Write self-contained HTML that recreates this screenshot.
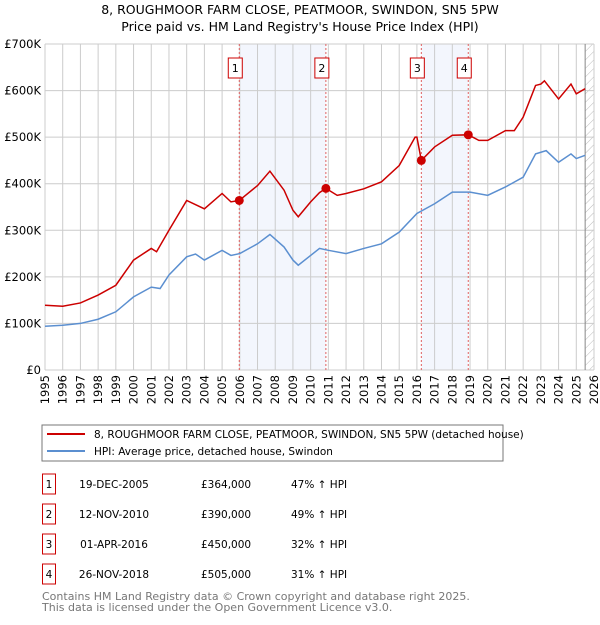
<!DOCTYPE html>
<html><head><meta charset="utf-8"><style>
body{margin:0;background:#fff;font-family:"Liberation Sans","DejaVu Sans",sans-serif;}
svg text{font-family:"DejaVu Sans","Liberation Sans",sans-serif;}
</style></head><body>
<svg id="c" width="600" height="620" xmlns="http://www.w3.org/2000/svg">
<defs><pattern id="hatch" width="6" height="6" patternUnits="userSpaceOnUse" patternTransform="rotate(45)"><line x1="0" y1="0" x2="0" y2="6" stroke="#bbb" stroke-width="1"/></pattern></defs>
<text x="300" y="14" text-anchor="middle" font-size="12.5" fill="#000">8, ROUGHMOOR FARM CLOSE, PEATMOOR, SWINDON, SN5 5PW</text>
<text x="300" y="31" text-anchor="middle" font-size="12.5" fill="#000">Price paid vs. HM Land Registry's House Price Index (HPI)</text>
<g id="plot"></g>
<rect x="42" y="425" width="461" height="36" fill="#fff" stroke="#777"/>
<line x1="47" y1="434" x2="85" y2="434" stroke="#cc0000" stroke-width="2"/>
<text x="94" y="438" font-size="10.5">8, ROUGHMOOR FARM CLOSE, PEATMOOR, SWINDON, SN5 5PW (detached house)</text>
<line x1="47" y1="451" x2="85" y2="451" stroke="#5b8fd0" stroke-width="2"/>
<text x="94" y="455" font-size="10.5">HPI: Average price, detached house, Swindon</text>
<g id="table" font-size="10.5"></g>
<text x="42" y="600" font-size="11" fill="#777">Contains HM Land Registry data © Crown copyright and database right 2025.</text>
<text x="42" y="611" font-size="11" fill="#777">This data is licensed under the Open Government Licence v3.0.</text>
</svg>
<script>
const yTicks=[0,100000,200000,300000,400000,500000,600000,700000];
const yTickLabels=["£0","£100K","£200K","£300K","£400K","£500K","£600K","£700K"];
const years=[1995,1996,1997,1998,1999,2000,2001,2002,2003,2004,2005,2006,2007,2008,2009,2010,2011,2012,2013,2014,2015,2016,2017,2018,2019,2020,2021,2022,2023,2024,2025,2026];
const hpiT=[1995,1996,1997,1998,1999,2000,2001,2001.5,2002,2003,2003.5,2004,2005,2005.5,2006,2007,2007.7,2008.5,2009,2009.3,2010,2010.5,2011,2012,2013,2014,2015,2016,2017,2018,2019,2020,2021,2022,2022.7,2023.3,2024,2024.7,2025,2025.5];
const hpiV=[94,96,100,109,125,157,178,175,204,243,249,236,257,246,250,271,291,264,236,225,246,261,257,250,261,271,296,336,357,382,382,375,393,414,464,471,446,464,454,461];
const propT=[1995,1996,1997,1998,1999,2000,2001,2001.3,2002,2003,2004,2005,2005.5,2005.97,2007,2007.7,2008.5,2009,2009.3,2010,2010.5,2010.86,2011.5,2012,2013,2014,2015,2015.9,2016.0,2016.25,2017,2018,2018.9,2019.5,2020,2021,2021.5,2022,2022.7,2023,2023.2,2024,2024.7,2025,2025.5];
const propV=[139,137,144,161,182,236,261,254,300,364,346,379,361,364,396,427,386,343,329,361,381,390,375,379,389,404,439,500,500,450,479,504,505,493,493,514,514,543,611,614,621,582,614,593,604];
const saleT=[2005.97,2010.86,2016.25,2018.9];
const saleV=[364000,390000,450000,505000];
const saleLabels=["1","2","3","4"];
const saleDates=["19-DEC-2005","12-NOV-2010","01-APR-2016","26-NOV-2018"];
const salePrices=["£364,000","£390,000","£450,000","£505,000"];
const saleHpi=["47% ↑ HPI","49% ↑ HPI","32% ↑ HPI","31% ↑ HPI"];

const NS="http://www.w3.org/2000/svg";
const L=45,R=594,T=44,B=370;
const x=t=>L+(t-1995)/31*(R-L);
const y=v=>B-v/700000*(B-T);
const g=document.getElementById('plot');
function mk(tag,a,parent){const e=document.createElementNS(NS,tag);for(const k in a)e.setAttribute(k,a[k]);(parent||g).appendChild(e);return e;}
for(let i=0;i<4;i+=2){
  const b=mk('rect',{x:x(saleT[i]),y:T,width:x(saleT[i+1])-x(saleT[i]),height:B-T,fill:'#f3f6fd'});
  
  
}
const h=mk('rect',{x:x(2025.5),y:T,width:R-x(2025.5),height:B-T,fill:'url(#hatch)'});


years.forEach(yr=>{
  const l=mk('line',{x1:x(yr),x2:x(yr),y1:T,y2:B,stroke:'#ccc','stroke-width':1});
  
  
  const t=mk('text',{x:0,y:0,'font-size':11.5,'text-anchor':'end',transform:`translate(${x(yr)+4},${B+5}) rotate(-90)`});
  t.textContent=yr;
  
  
});
yTicks.forEach((v,i)=>{
  const l=mk('line',{x1:L,x2:R,y1:y(v),y2:y(v),stroke:'#ccc','stroke-width':1});
  
  
  const t=mk('text',{x:L-4,y:y(v)+4,'font-size':11.5,'text-anchor':'end'});
  t.textContent=yTickLabels[i];
  
  
});
const fl=mk('line',{x1:x(2025.5),x2:x(2025.5),y1:T,y2:B,stroke:'#888','stroke-width':1});


saleT.forEach((t,i)=>{
  const l=mk('line',{x1:x(t),x2:x(t),y1:T,y2:B,stroke:'#e06060','stroke-width':1,'stroke-dasharray':'2,2'});
  
  
  const r=mk('rect',{x:x(t)-11,y:58,width:14,height:20,fill:'#fff',stroke:'#cc0000'});
  
  
  const tx=mk('text',{x:x(t)-4,y:72,'font-size':11,'text-anchor':'middle'});
  tx.textContent=saleLabels[i];
  
  
});
const hp=mk('polyline',{points:hpiT.map((t,i)=>x(t)+','+y(hpiV[i]*1000)).join(' '),fill:'none',stroke:'#5b8fd0','stroke-width':1.5});


const pp=mk('polyline',{points:propT.map((t,i)=>x(t)+','+y(propV[i]*1000)).join(' '),fill:'none',stroke:'#cc0000','stroke-width':1.5});


saleT.forEach((t,i)=>{
  const c=mk('circle',{cx:x(t),cy:y(saleV[i]),r:4.5,fill:'#cc0000'});
  
  
});
const tb=document.getElementById('table');
const rowY=[483,513,543,573];
rowY.forEach((ry,i)=>{
  const r=mk('rect',{x:42.5,y:ry-9,width:13,height:20,fill:'#fff',stroke:'#cc0000'},tb);
  
  
  const a=mk('text',{x:49,y:ry+5,'text-anchor':'middle'},tb);a.textContent=saleLabels[i];
  
  
  const d=mk('text',{x:114,y:ry+5,'text-anchor':'middle'},tb);d.textContent=saleDates[i];
  
  
  const p=mk('text',{x:201,y:ry+5},tb);p.textContent=salePrices[i];
  
  
  const q=mk('text',{x:291,y:ry+5},tb);q.textContent=saleHpi[i];
  
  
});
</script>
</body></html>
